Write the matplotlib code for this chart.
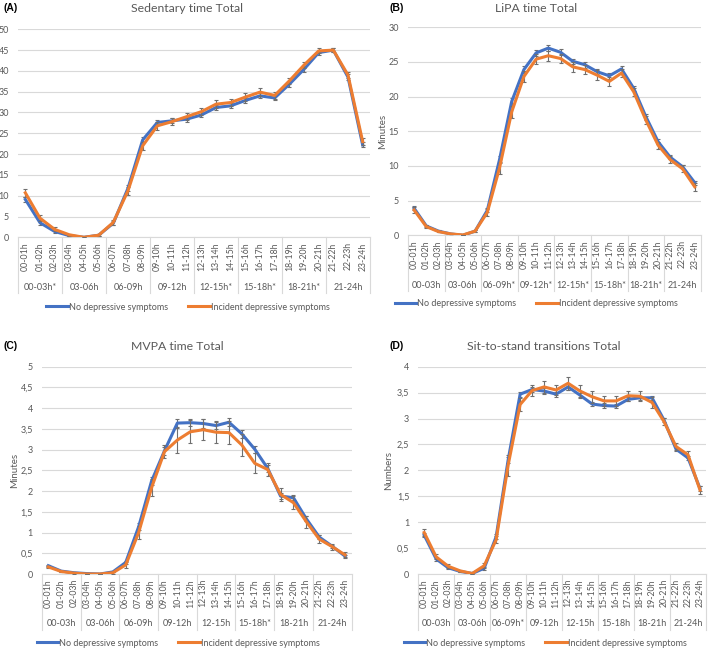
import numpy as np
import matplotlib
matplotlib.use('Agg')
import matplotlib.pyplot as plt
import matplotlib.transforms as mtransforms
from matplotlib.lines import Line2D
from matplotlib.ticker import MultipleLocator, FuncFormatter

# 数据：每小时均值及误差
hours = ['00-01h', '01-02h', '02-03h', '03-04h', '04-05h', '05-06h',
         '06-07h', '07-08h', '08-09h', '09-10h', '10-11h', '11-12h',
         '12-13h', '13-14h', '14-15h', '15-16h', '16-17h', '17-18h',
         '18-19h', '19-20h', '20-21h', '21-22h', '22-23h', '23-24h']
series_names = ['No depressive symptoms', 'Incident depressive symptoms']

# (A) Sedentary time
groups_a = ['00-03h*', '03-06h', '06-09h', '09-12h', '12-15h*', '15-18h*', '18-21h*', '21-24h']
sed_no = [9.1, 3.5, 1.4, 0.4, 0.0, 0.5, 3.4, 11.8, 23.4, 27.6, 28.0, 28.4,
          29.4, 31.2, 31.6, 32.9, 34.0, 33.5, 36.8, 40.4, 44.4, 45.0, 38.5, 22.2]
sed_no_err = [0.6, 0.5, 0.4, 0.2, 0.1, 0.2, 0.4, 0.7, 0.7, 0.6, 0.6, 0.6,
              0.6, 0.6, 0.6, 0.6, 0.6, 0.6, 0.6, 0.6, 0.5, 0.4, 0.7, 0.6]
sed_inc = [10.7, 4.6, 1.9, 0.6, 0.0, 0.5, 3.6, 11.2, 22.0, 26.8, 27.8, 29.0,
           30.2, 32.0, 32.4, 33.7, 34.9, 34.1, 37.6, 41.4, 44.8, 45.0, 39.0, 23.0]
sed_inc_err = [1.0, 0.8, 0.5, 0.3, 0.1, 0.3, 0.6, 1.0, 1.0, 0.9, 0.8, 0.8,
               0.8, 0.9, 0.9, 0.9, 1.0, 0.8, 0.8, 0.7, 0.6, 0.5, 0.8, 0.8]

# (B) LiPA time
groups_b = ['00-03h', '03-06h', '06-09h*', '09-12h*', '12-15h*', '15-18h*', '18-21h*', '21-24h']
lipa_no = [3.9, 1.35, 0.6, 0.2, 0.0, 0.6, 3.6, 10.9, 19.3, 23.9, 26.3, 27.0,
           26.4, 25.1, 24.6, 23.6, 23.0, 24.0, 21.2, 17.1, 13.5, 11.25, 9.9, 7.6]
lipa_no_err = [0.3, 0.2, 0.1, 0.05, 0.02, 0.1, 0.3, 0.5, 0.5, 0.5, 0.4, 0.4,
               0.4, 0.4, 0.4, 0.4, 0.4, 0.4, 0.4, 0.4, 0.4, 0.3, 0.3, 0.3]
lipa_inc = [3.65, 1.25, 0.53, 0.2, 0.05, 0.6, 3.3, 9.7, 17.8, 22.9, 25.4, 25.9,
            25.5, 24.3, 23.9, 23.1, 22.2, 23.4, 20.7, 16.6, 13.0, 10.9, 9.6, 7.0]
lipa_inc_err = [0.4, 0.2, 0.1, 0.05, 0.02, 0.15, 0.5, 0.9, 0.9, 0.8, 0.7, 0.7,
                0.6, 0.7, 0.7, 0.7, 0.7, 0.6, 0.6, 0.6, 0.5, 0.5, 0.5, 0.6]

# (C) MVPA time
groups_c = ['00-03h', '03-06h', '06-09h', '09-12h', '12-15h', '15-18h*', '18-21h', '21-24h']
mvpa_no = [0.2, 0.07, 0.03, 0.01, 0.0, 0.05, 0.28, 1.14, 2.24, 2.97, 3.64, 3.65,
           3.63, 3.58, 3.66, 3.38, 3.01, 2.55, 1.88, 1.84, 1.33, 0.89, 0.67, 0.43]
mvpa_no_err = [0.02, 0.01, 0.01, 0.0, 0.0, 0.01, 0.04, 0.08, 0.1, 0.1, 0.1, 0.08,
               0.1, 0.08, 0.1, 0.1, 0.08, 0.08, 0.08, 0.06, 0.06, 0.05, 0.04, 0.04]
mvpa_inc = [0.17, 0.06, 0.02, 0.0, 0.0, 0.03, 0.22, 1.0, 2.08, 2.95, 3.23, 3.43,
            3.48, 3.42, 3.41, 3.11, 2.67, 2.52, 1.92, 1.72, 1.26, 0.84, 0.66, 0.46]
mvpa_inc_err = [0.03, 0.02, 0.01, 0.0, 0.0, 0.02, 0.08, 0.15, 0.2, 0.15, 0.3, 0.28,
                0.25, 0.27, 0.28, 0.26, 0.24, 0.16, 0.15, 0.15, 0.14, 0.1, 0.07, 0.06]

# (D) Sit-to-stand transitions
groups_d = ['00-03h', '03-06h', '06-09h*', '09-12h', '12-15h', '15-18h', '18-21h', '21-24h']
sts_no = [0.75, 0.29, 0.12, 0.05, 0.01, 0.11, 0.72, 2.2, 3.47, 3.56, 3.53, 3.47,
          3.61, 3.45, 3.28, 3.25, 3.24, 3.37, 3.40, 3.40, 2.97, 2.41, 2.24, 1.65]
sts_no_err = [0.04, 0.03, 0.02, 0.01, 0.01, 0.03, 0.05, 0.05, 0.05, 0.05, 0.05, 0.05,
              0.05, 0.05, 0.04, 0.04, 0.04, 0.04, 0.04, 0.04, 0.04, 0.04, 0.04, 0.05]
sts_inc = [0.8, 0.33, 0.15, 0.06, 0.01, 0.16, 0.66, 2.1, 3.27, 3.54, 3.61, 3.55,
           3.68, 3.53, 3.42, 3.34, 3.34, 3.44, 3.43, 3.31, 2.94, 2.46, 2.30, 1.62]
sts_inc_err = [0.07, 0.05, 0.04, 0.02, 0.01, 0.05, 0.07, 0.2, 0.12, 0.1, 0.12, 0.1,
               0.12, 0.12, 0.12, 0.1, 0.1, 0.1, 0.1, 0.1, 0.07, 0.07, 0.07, 0.08]

BLUE = '#4472C4'
ORANGE = '#ED7D31'
ERR = '#6F6F6F'
TXT = '#595959'
GRID = '#D9D9D9'
FONT = ['Lato', 'DejaVu Sans']

plt.rcParams['font.family'] = FONT

W, H = 709, 648
fig = plt.figure(figsize=(W / 100, H / 100), dpi=100)


def fx(px):
    return px / W


def fy(py):
    return 1 - py / H


def draw_panel(box, no_dep, no_err, inc, inc_err, ymax, ystep, groups,
               title, title_xy, letter, letter_xy, legend_xy,
               ylabel=None, ylabel_x=None):
    left, top, right, bottom = box
    hpx = bottom - top
    ax = fig.add_axes([fx(left), fy(bottom), fx(right - left), hpx / H])
    x = np.arange(len(hours))

    ax.errorbar(x, no_dep, yerr=no_err, color=BLUE, lw=2.2, ecolor=ERR,
                elinewidth=0.8, capsize=1.6, capthick=0.8, zorder=3)
    ax.errorbar(x, inc, yerr=inc_err, color=ORANGE, lw=2.2, ecolor=ERR,
                elinewidth=0.8, capsize=1.6, capthick=0.8, zorder=4)

    ax.set_xlim(-0.5, len(hours) - 0.5)
    ax.set_ylim(0, ymax)
    ax.yaxis.set_major_locator(MultipleLocator(ystep))
    ax.yaxis.set_major_formatter(FuncFormatter(lambda v, p: f'{v:g}'.replace('.', ',')))
    ax.tick_params(axis='y', length=0, pad=6.5, labelsize=6.5, labelcolor=TXT)
    ax.set_xticks([])
    ax.grid(axis='y', color=GRID, lw=0.8)
    ax.set_axisbelow(True)
    for s in ['top', 'right', 'left']:
        ax.spines[s].set_visible(False)
    ax.spines['bottom'].set_color(GRID)
    ax.spines['bottom'].set_linewidth(0.8)

    # 两级分类轴
    trans = mtransforms.blended_transform_factory(ax.transData, ax.transAxes)
    for i, lab in enumerate(hours):
        ax.text(i, -5 / hpx, lab, rotation=90, ha='center', va='top',
                transform=trans, fontsize=6.3, color=TXT)
    for g, lab in enumerate(groups):
        ax.text(3 * g + 1, -50 / hpx, lab, ha='center', va='center',
                transform=trans, fontsize=6.5, color=TXT)
    for b in np.arange(-0.5, len(hours), 3):
        ax.add_line(Line2D([b, b], [0, -56 / hpx], transform=trans,
                           color=GRID, lw=0.8, clip_on=False))

    handles = [Line2D([], [], color=BLUE, lw=2.2), Line2D([], [], color=ORANGE, lw=2.2)]
    ax.legend(handles, series_names, loc='center',
              bbox_to_anchor=(fx(legend_xy[0]), fy(legend_xy[1])),
              bbox_transform=fig.transFigure, ncol=2, frameon=False,
              fontsize=6.5, handlelength=2.4, handletextpad=0.1,
              columnspacing=2.2, labelcolor=TXT, borderpad=0)

    fig.text(fx(title_xy[0]), fy(title_xy[1]), title, ha='center', va='center',
             fontsize=8.8, color=TXT)
    fig.text(fx(letter_xy[0]), fy(letter_xy[1]), letter, ha='left', va='center',
             fontsize=7.5, fontweight='bold', color='black',
             family=['Liberation Sans', 'DejaVu Sans'])
    if ylabel:
        fig.text(fx(ylabel_x), fy((top + bottom) / 2), ylabel, rotation=90,
                 ha='center', va='center', fontsize=7, color=TXT)
    return ax


draw_panel((18, 29.3, 370, 237.3), sed_no, sed_no_err, sed_inc, sed_inc_err,
           50, 5, groups_a, 'Sedentary time Total', (187, 9), '(A)', (3, 8),
           (188, 307))
draw_panel((408, 27.3, 700.8, 235.3), lipa_no, lipa_no_err, lipa_inc, lipa_inc_err,
           30, 5, groups_b, 'LiPA time Total', (536, 8), '(B)', (389, 8),
           (536, 304), ylabel='Minutes', ylabel_x=383)
draw_panel((41.9, 366.7, 351.5, 574), mvpa_no, mvpa_no_err, mvpa_inc, mvpa_inc_err,
           5, 0.5, groups_c, 'MVPA time Total', (177, 346), '(C)', (3, 346),
           (178, 643), ylabel='Minutes', ylabel_x=15)
draw_panel((418.2, 366.7, 706, 574), sts_no, sts_no_err, sts_inc, sts_inc_err,
           4, 0.5, groups_d, 'Sit-to-stand transitions Total', (544, 346), '(D)',
           (389, 346), (545, 643), ylabel='Numbers', ylabel_x=389)

fig.savefig('out.png', dpi=100)
